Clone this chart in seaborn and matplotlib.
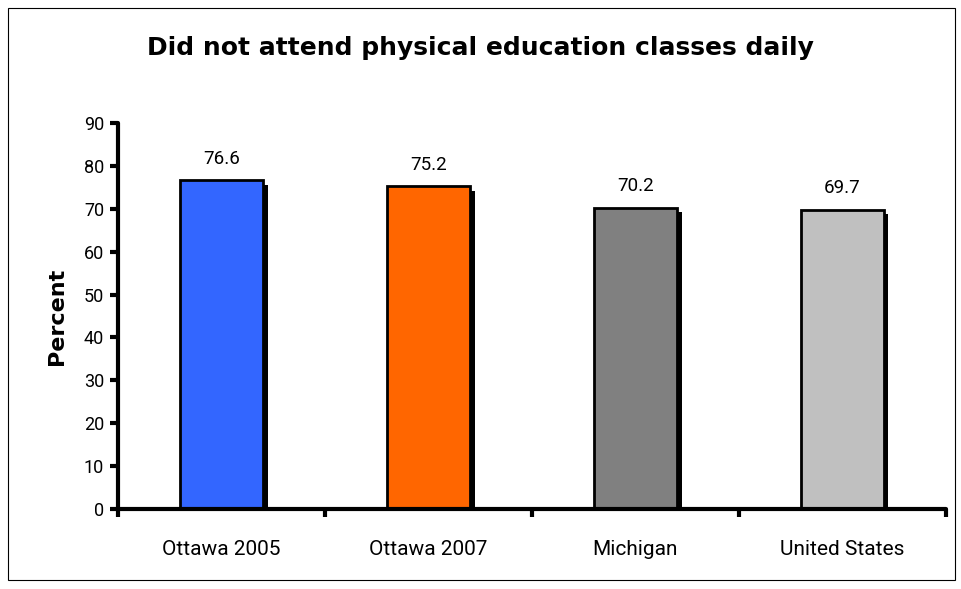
import matplotlib
matplotlib.use("Agg")
import matplotlib.pyplot as plt
import matplotlib.patheffects as pe
from matplotlib.patches import Rectangle
import numpy as np
import pandas as pd
import seaborn as sns

# data
regions = ["Ottawa 2005", "Ottawa 2007", "Michigan", "United States"]
percents = [76.6, 75.2, 70.2, 69.7]
bar_colors = ["#3366FF", "#FF6600", "#808080", "#C0C0C0"]

sns.set_style("white")
plt.rcParams['font.family'] = ['Roboto', 'DejaVu Sans']
plt.rcParams['text.color'] = 'black'
plt.rcParams['axes.labelcolor'] = 'black'
plt.rcParams['xtick.color'] = 'black'
plt.rcParams['ytick.color'] = 'black'

df = pd.DataFrame({"region": regions, "percent": percents})

fig = plt.figure(figsize=(9.61, 5.89), dpi=100)
ax = fig.add_axes([0.1228, 0.1358, 0.8612, 0.6554])

sns.barplot(data=df, x="region", y="percent", hue="region", palette=bar_colors,
            width=0.4, edgecolor="black", linewidth=2, legend=False, ax=ax,
            saturation=1)

# solid black drop shadow like the original
for p in ax.patches:
    p.set_path_effects([pe.SimplePatchShadow(offset=(3.5, -3.0), shadow_rgbFace="black", alpha=1.0),
                        pe.Normal()])

for i, v in enumerate(percents):
    ax.text(i, v + 3, f"{v}", ha="center", va="bottom", fontsize=13.5)

ax.set_xlim(-0.5, 3.5)
ax.set_ylim(0, 90)
ax.set_yticks(np.arange(0, 91, 10))
ax.set_xticks(range(len(regions)))
ax.set_xticklabels(regions, fontsize=15)
ax.set_xticks(np.arange(-0.5, 3.6, 1), minor=True)
ax.tick_params(axis="x", which="major", bottom=True, length=0, pad=22)
ax.tick_params(axis="x", which="minor", bottom=True, length=6, width=3, direction="out")
ax.tick_params(axis="y", which="major", left=True, length=6, width=3, direction="out",
               labelsize=13, pad=4)
ax.set_xlabel("")
ax.set_ylabel("Percent", fontsize=16, fontweight="bold", labelpad=12,
              family=["DejaVu Sans"])

for side in ["top", "right"]:
    ax.spines[side].set_visible(False)
for side in ["left", "bottom"]:
    ax.spines[side].set_linewidth(3)
    ax.spines[side].set_color("black")
    ax.spines[side].set_capstyle("round")

fig.text(0.5, 0.918, "Did not attend physical education classes daily",
         ha="center", va="center", fontsize=18, fontweight="bold",
         family=["DejaVu Sans"])

fig.patches.append(Rectangle((0.008, 0.015), 0.986, 0.972, transform=fig.transFigure,
                             fill=False, edgecolor="black", linewidth=0.8))

fig.savefig("out.png", dpi=100)
